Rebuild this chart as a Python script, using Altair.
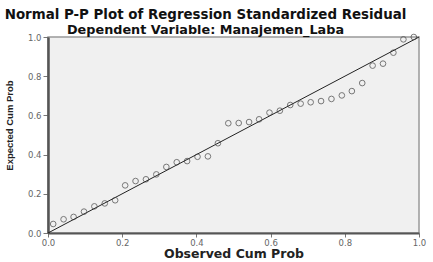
import altair as alt
import pandas as pd

observed = [0.014, 0.042, 0.069, 0.097, 0.125, 0.153, 0.181, 0.208, 0.236, 0.264,
            0.292, 0.319, 0.347, 0.375, 0.403, 0.431, 0.458, 0.486, 0.514, 0.542,
            0.569, 0.597, 0.625, 0.653, 0.681, 0.708, 0.736, 0.764, 0.792, 0.819,
            0.847, 0.875, 0.903, 0.931, 0.958, 0.986]
expected = [0.046, 0.070, 0.082, 0.109, 0.136, 0.151, 0.167, 0.243, 0.265, 0.274,
            0.299, 0.337, 0.361, 0.367, 0.389, 0.391, 0.458, 0.560, 0.561, 0.566,
            0.580, 0.614, 0.624, 0.653, 0.660, 0.667, 0.673, 0.684, 0.702, 0.724,
            0.765, 0.854, 0.864, 0.920, 0.988, 1.000]
diag = [0.0, 1.0]
ticks = [0.0, 0.2, 0.4, 0.6, 0.8, 1.0]

pts = pd.DataFrame({"obs": observed, "exp": expected})
line_df = pd.DataFrame({"obs": diag, "exp": diag})

xs = alt.Scale(domain=[0, 1], nice=False, zero=False)
ys = alt.Scale(domain=[0, 1], nice=False, zero=False)

xax = alt.Axis(values=ticks, format=".1f", title="Observed Cum Prob", grid=False,
               labelOverlap=False, labelFlush=False,
               labelFont="DejaVu Sans", labelFontSize=8.5, labelColor="#666",
               titleFont="DejaVu Sans", titleFontSize=12.5, titleFontWeight="bold",
               titleColor="#222", titlePadding=1, tickColor="#777", tickSize=4,
               domainColor="#555", domainWidth=2, labelPadding=1)
yax = alt.Axis(values=ticks, format=".1f", title="Expected Cum Prob", grid=False,
               labelOverlap=False, labelFlush=False, labelBound=False,
               labelFont="DejaVu Sans", labelFontSize=8.5, labelColor="#666",
               titleFont="Liberation Sans Narrow, Liberation Sans", titleFontSize=9.5,
               titleFontWeight="bold",
               titleColor="#222", titlePadding=13, titleY=88, tickColor="#777", tickSize=5,
               domainColor="#555", domainWidth=2.5, labelPadding=2)

enc_x = alt.X("obs:Q", scale=xs, axis=xax)
enc_y = alt.Y("exp:Q", scale=ys, axis=yax)

line = alt.Chart(line_df).mark_line(color="#222", strokeWidth=1).encode(x=enc_x, y=enc_y)
points = alt.Chart(pts).mark_point(shape="circle", filled=False, color="#444",
                                   size=32, strokeWidth=1).encode(x=enc_x, y=enc_y)

chart = (line + points).properties(
    width=371, height=196,
    title=alt.TitleParams(
        text="Normal P-P Plot of Regression Standardized Residual",
        subtitle="Dependent Variable: Manajemen_Laba",
        anchor="middle", dx=-28, offset=-5,
        font="DejaVu Sans", fontSize=13.4, fontWeight="bold", color="#111",
        subtitleFont="DejaVu Sans", subtitleFontSize=12.8, subtitleFontWeight="bold",
        subtitleColor="#111", subtitlePadding=3,
    ),
    autosize=alt.AutoSizeParams(type="none"),
    padding={"left": 48, "top": 37, "right": 14, "bottom": 29},
    background="white",
).configure_view(fill="#f0f0f0", stroke="#999", strokeWidth=1.5)

chart.save("out.html", embed_options={"renderer": "svg", "actions": False})
